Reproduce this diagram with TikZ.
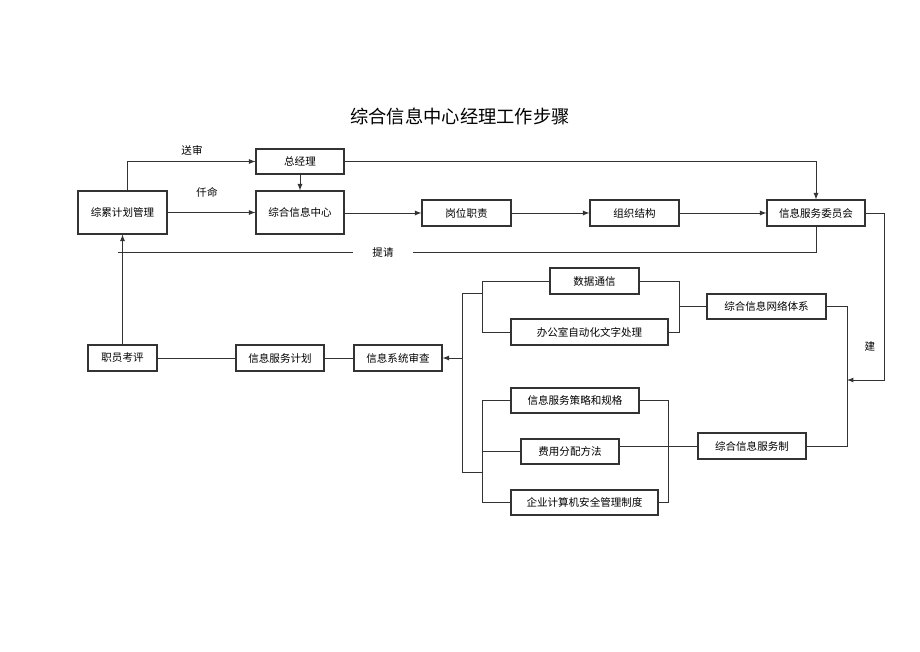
\documentclass[tikz,border=0pt]{standalone}
\usepackage{fontspec}
\setmainfont{Noto Sans CJK SC}
\usetikzlibrary{positioning}
\tikzset{
  box/.style = {draw=black!80, line width=0.8pt, inner sep=0, font=\fontsize{7.5}{8}\selectfont},
  arr/.style = {-latex, line width=0.6pt, draw=black!80},
  line/.style = {line width=0.6pt, draw=black!80},
  lbl/.style = {font=\fontsize{7.5}{8}\selectfont},
}

\begin{document}
\begin{tikzpicture}[x=0.025cm, y=-0.025cm]
        \useasboundingbox (0,0) rectangle (920,651);
        \node (title) at (460,116) {\fontsize{13}{14}\selectfont 综合信息中心经理工作步骤};
        % boxes: name/x/y/width/height/text
        \foreach \N/\X/\Y/\W/\H/\T in {
          zjl/300/161.5/88/25/总经理,
          zlj/122.5/212.5/89/43/综累计划管理,
          zhx/300/212.5/88/43/综合信息中心,
          gwz/466.5/213/89/26/岗位职责,
          zzj/634.5/213/89/26/组织结构,
          xfw/816/213/98/26/信息服务委员会,
          sjt/594.5/281/89/26/数据通信,
          bgs/589.5/332/157/26/办公室自动化文字处理,
          wlt/766.5/306.5/119/25/综合信息网络体系,
          zyk/122.5/358/69/26/职员考评,
          fwj/280/358/88/26/信息服务计划,
          xtc/398/358/88/26/信息系统审查,
          clg/575/400.5/128/25/信息服务策略和规格,
          fyf/570/451.5/98/25/费用分配方法,
          aqz/584.5/502.5/147/25/企业计算机安全管理制度,
          fwz/752/446/108/26/综合信息服务制%
        }{
          \node (\N) [box, minimum width=\W*0.025cm, minimum height=\H*0.025cm] at (\X,\Y) {\T};
        }

        \coordinate (sx) at (127,0);
        \coordinate (tq) at (118,252);
        \coordinate (jian) at (847,380);
        \coordinate (lt) at (482,0);
        \coordinate (rt) at (679,0);
        \coordinate (rb) at (668,0);
        \coordinate (o1) at (462,293);
        \coordinate (o2) at (462,472);

        % top row
        \draw [arr] (zlj.north -| sx) |- (zjl);
        \draw [arr] (zlj) -- (zhx);
        \draw [arr] (zjl) -- (zhx);
        \draw [arr] (zjl) -| (xfw);
        \draw [arr] (zhx.east |- gwz) -- (gwz);
        \draw [arr] (gwz) -- (zzj);
        \draw [arr] (zzj) -- (xfw);
        \node [lbl] at (192,150) {送审};
        \node [lbl] at (207,192) {仟命};

        % feedback
        \draw [line] (xfw) |- (tq);
        \node [lbl, fill=white, inner xsep=14pt] at (383,252) {提请};
        \draw [arr] (zyk) -- (zlj);
        \draw [line] (xtc) -- (fwj);
        \draw [line] (fwj) -- (zyk);

        % right side
        \draw [arr] (xfw.east) -- ++(19,0) |- (jian);
        \draw [line] (wlt.east) -| (jian);
        \draw [line] (fwz.east) -| (jian);
        \node [lbl] at (870,346) {建};

        % upper bracket
        \draw [line] (sjt.east) -| (bgs.east -| rt) -- (bgs.east);
        \draw [line] (wlt.west) -- (wlt.west -| rt);
        \draw [line] (sjt.west) -| (bgs.west -| lt) -- (bgs.west);

        % lower bracket
        \draw [line] (clg.west) -| (aqz.west -| lt) -- (aqz.west);
        \draw [line] (fyf.west) -- (fyf.west -| lt);
        \draw [line] (clg.east) -| (aqz.east -| rb) -- (aqz.east);
        \draw [line] (fyf.east |- fwz) -- (fwz);

        % outer bracket
        \draw [line] (o1 -| lt) -- (o1) -- (o2) -- (o2 -| lt);
        \draw [arr] (o1 |- xtc) -- (xtc);
      \end{tikzpicture}
\end{document}
